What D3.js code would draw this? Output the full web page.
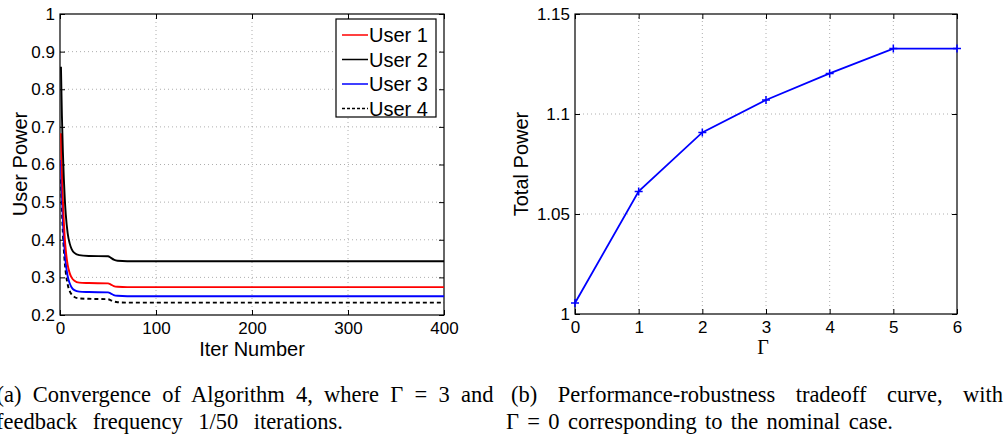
<!DOCTYPE html>
<html>
<head>
<meta charset="utf-8">
<script src="https://cdn.jsdelivr.net/npm/d3@7"></script>
<style>
  body { margin: 0; background: #fff; }
  svg { display: block; }
  .tick text { font-family: "Liberation Sans", Arial, sans-serif; font-size: 17px; fill: #000; }
</style>
</head>
<body>
<svg id="chart" width="1008" height="434"></svg>
<script>
// ---- data ----
const iters = [1, 2, 3, 4, 5, 6, 8, 10, 12, 15, 20, 30, 50, 53, 56, 60, 70, 400];
const user1 = [0.683, 0.580, 0.504, 0.448, 0.404, 0.373, 0.333, 0.312, 0.300, 0.291, 0.286, 0.285, 0.284, 0.281, 0.277, 0.275, 0.274, 0.274];
const user2 = [0.860, 0.729, 0.634, 0.563, 0.508, 0.468, 0.417, 0.391, 0.376, 0.365, 0.359, 0.357, 0.356, 0.352, 0.347, 0.344, 0.343, 0.343];
const user3 = [0.612, 0.521, 0.454, 0.405, 0.366, 0.338, 0.303, 0.285, 0.274, 0.266, 0.262, 0.261, 0.260, 0.257, 0.253, 0.251, 0.250, 0.250];
const user4 = [0.560, 0.478, 0.417, 0.373, 0.338, 0.313, 0.281, 0.264, 0.255, 0.248, 0.244, 0.243, 0.242, 0.239, 0.236, 0.234, 0.233, 0.233];
const userNames = ["User 1", "User 2", "User 3", "User 4"];

const gammas = [0, 1, 2, 3, 4, 5, 6];
const totalPower = [1.0055, 1.0613, 1.0908, 1.107, 1.1203, 1.1327, 1.1327];

const leftXTicks = [0, 100, 200, 300, 400];
const leftYTicks = [0.2, 0.3, 0.4, 0.5, 0.6, 0.7, 0.8, 0.9, 1];
const rightXTicks = [0, 1, 2, 3, 4, 5, 6];
const rightYTicks = [1, 1.05, 1.1, 1.15];

const svg = d3.select("#chart");
const sans = '"Liberation Sans", Arial, sans-serif';
const serif = '"Liberation Serif", "Times New Roman", serif';

// MATLAB-like framed axes: dotted grid, ticks inward on all four sides
function drawAxes(x, y, xTicks, yTicks, yFmt) {
  const [x0, x1] = x.range();
  const [y0, y1] = y.range();
  const g = svg.append("g");

  g.selectAll(".gx").data(xTicks.slice(1, -1)).join("line")
    .attr("x1", d => x(d)).attr("x2", d => x(d))
    .attr("y1", y0).attr("y2", y1)
    .attr("stroke", "#999").attr("stroke-width", 0.8).attr("stroke-dasharray", "1,3");
  g.selectAll(".gy").data(yTicks.slice(1, -1)).join("line")
    .attr("y1", d => y(d)).attr("y2", d => y(d))
    .attr("x1", x0).attr("x2", x1)
    .attr("stroke", "#999").attr("stroke-width", 0.8).attr("stroke-dasharray", "1,3");

  g.append("g").attr("transform", `translate(0,${y0})`)
    .call(d3.axisBottom(x).tickValues(xTicks).tickSize(-5).tickPadding(7).tickFormat(d3.format("d")))
    .call(a => a.select(".domain").remove());
  g.append("g").attr("transform", `translate(${x0},0)`)
    .call(d3.axisLeft(y).tickValues(yTicks).tickSize(-5).tickPadding(5).tickFormat(yFmt))
    .call(a => a.select(".domain").remove());
  g.append("g").attr("transform", `translate(0,${y1})`)
    .call(d3.axisTop(x).tickValues(xTicks).tickSize(-5).tickFormat(""))
    .call(a => a.select(".domain").remove());
  g.append("g").attr("transform", `translate(${x1},0)`)
    .call(d3.axisRight(y).tickValues(yTicks).tickSize(-5).tickFormat(""))
    .call(a => a.select(".domain").remove());
  g.selectAll(".tick text").attr("fill", "#000");
  g.selectAll(".tick line").attr("stroke", "#000");

  g.append("rect")
    .attr("x", x0).attr("y", y1)
    .attr("width", x1 - x0).attr("height", y0 - y1)
    .attr("fill", "none").attr("stroke", "#000").attr("stroke-width", 1.2);
  return g;
}

// ---- left panel ----
const xL = d3.scaleLinear().domain([0, 400]).range([60, 444]);
const yL = d3.scaleLinear().domain([0.2, 1]).range([315, 14]);
drawAxes(xL, yL, leftXTicks, leftYTicks, d => d === 1 ? "1" : d3.format(".1f")(d));

const series = [
  { name: userNames[0], values: user1, color: "#ff0000", dash: null },
  { name: userNames[1], values: user2, color: "#000000", dash: null },
  { name: userNames[2], values: user3, color: "#0000ff", dash: null },
  { name: userNames[3], values: user4, color: "#000000", dash: "4,3" }
];
const lineL = d3.line().x(d => xL(d[0])).y(d => yL(d[1])).curve(d3.curveMonotoneX);
[3, 2, 0, 1].forEach(i => {
  const s = series[i];
  svg.append("path")
    .datum(iters.map((t, k) => [t, s.values[k]]))
    .attr("fill", "none").attr("stroke", s.color).attr("stroke-width", 1.9)
    .attr("stroke-dasharray", s.dash)
    .attr("d", lineL);
});

// legend
const leg = svg.append("g").attr("transform", "translate(336,19)");
leg.append("rect").attr("width", 100).attr("height", 98)
  .attr("fill", "#fff").attr("stroke", "#000").attr("stroke-width", 1.2);
series.forEach((s, i) => {
  const cy = 16 + i * 24.5;
  leg.append("line").attr("x1", 6).attr("x2", 32).attr("y1", cy).attr("y2", cy)
    .attr("stroke", s.color).attr("stroke-width", 1.5).attr("stroke-dasharray", s.dash ? "3,2" : null);
  leg.append("text").attr("x", 33).attr("y", cy).attr("dy", "0.36em")
    .attr("font-family", sans).attr("font-size", 20).text(s.name);
});

svg.append("text").attr("transform", "translate(26.5,164) rotate(-90)")
  .attr("text-anchor", "middle").attr("font-family", sans).attr("font-size", 20).text("User Power");
svg.append("text").attr("x", 252).attr("y", 356)
  .attr("text-anchor", "middle").attr("font-family", sans).attr("font-size", 20).text("Iter Number");

// ---- right panel ----
const xR = d3.scaleLinear().domain([0, 6]).range([575, 957]);
const yR = d3.scaleLinear().domain([1, 1.15]).range([314, 14]);
drawAxes(xR, yR, rightXTicks, rightYTicks, d => d === 1 ? "1" : d3.format("~g")(d));

const lineR = d3.line().x((d, i) => xR(gammas[i])).y(d => yR(d));
svg.append("path").datum(totalPower)
  .attr("fill", "none").attr("stroke", "#0000ff").attr("stroke-width", 1.8)
  .attr("d", lineR);
svg.append("g").selectAll("path").data(totalPower).join("path")
  .attr("transform", (d, i) => `translate(${xR(gammas[i])},${yR(d)})`)
  .attr("d", "M-4,0H4M0,-4V4")
  .attr("stroke", "#0000ff").attr("stroke-width", 1.5);

svg.append("text").attr("transform", "translate(528,164) rotate(-90)")
  .attr("text-anchor", "middle").attr("font-family", sans).attr("font-size", 20).text("Total Power");
svg.append("text").attr("x", 763).attr("y", 354)
  .attr("text-anchor", "middle").attr("font-family", serif).attr("font-size", 20).text("Γ");

// ---- captions (lines stretched to the reference width via word spacing) ----
const cap = svg.append("g").attr("font-family", serif).attr("font-size", 22.5).attr("fill", "#000");
function capLine(x, y, str, width) {
  const t = cap.append("text").attr("x", x).attr("y", y).text(str);
  const natural = t.node().getComputedTextLength();
  const gaps = str.split(" ").length - 1;
  if (gaps > 0 && width > natural) t.attr("word-spacing", (width - natural) / gaps);
  return t;
}
capLine(-3.5, 402, "(a) Convergence of Algorithm 4, where Γ = 3 and", 497);
capLine(-4, 428.5, "feedback frequency 1/50 iterations.", 347);
capLine(511, 402, "(b) Performance-robustness tradeoff curve, with", 492);
capLine(506, 428.5, "Γ = 0 corresponding to the nominal case.", 387);
</script>
</body>
</html>
